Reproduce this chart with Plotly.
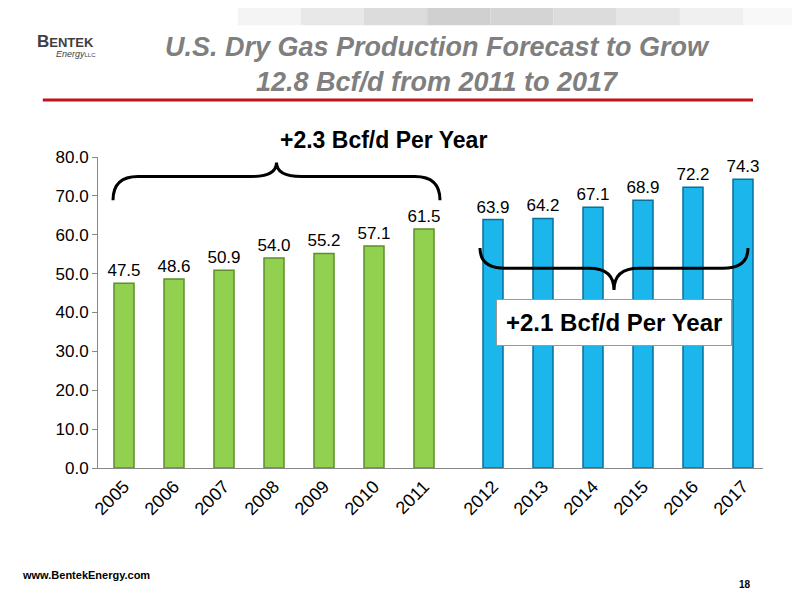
import plotly.graph_objects as go

hist_years = ["2005","2006","2007","2008","2009","2010","2011"]
hist_vals = [47.5,48.6,50.9,54.0,55.2,57.1,61.5]
fc_years = ["2012","2013","2014","2015","2016","2017"]
fc_vals = [63.9,64.2,67.1,68.9,72.2,74.3]
yticks = [0,10,20,30,40,50,60,70,80]

gap = 0.38
hx = list(range(len(hist_years)))
fx = [len(hist_years) + gap + i for i in range(len(fc_years))]

fig = go.Figure()
fig.add_bar(x=hx, y=hist_vals, width=0.4, marker=dict(color="#92D050", line=dict(color="#5E8F2A", width=1.5)),
            text=[f"{v:.1f}" for v in hist_vals], textposition="outside", constraintext="none",
            textfont=dict(size=17, color="black"), cliponaxis=False)
fig.add_bar(x=fx, y=fc_vals, width=0.4, marker=dict(color="#1BB6EC", line=dict(color="#0A6F9A", width=1.5)),
            text=[f"{v:.1f}" for v in fc_vals], textposition="outside", constraintext="none",
            textfont=dict(size=17, color="black"), cliponaxis=False)

def brace(x0, x1, yflat, yend, ycusp):
    xm = (x0 + x1) / 2
    return (f"M {x0},{yend} Q {x0},{yflat} {x0+0.5},{yflat} L {xm-0.5},{yflat} "
            f"Q {xm},{yflat} {xm},{ycusp} Q {xm},{yflat} {xm+0.5},{yflat} "
            f"L {x1-0.5},{yflat} Q {x1},{yflat} {x1},{yend}")

fig.add_shape(type="path", path=brace(-0.22, 6.32, 75.0, 68.9, 78.6), xref="x", yref="y",
              line=dict(color="black", width=3))
fig.add_shape(type="path", path=brace(7.12, 12.48, 51.4, 56.6, 45.8), xref="x", yref="y",
              line=dict(color="black", width=3))

def ann(x, y, text, **kw):
    fig.add_annotation(xref="paper", yref="paper", x=x, y=y, text=text, showarrow=False, yanchor="middle", **kw)

ann(0.271, 1.055, "<b>+2.3 Bcf/d Per Year</b>", font=dict(size=23, color="black"))
fig.add_annotation(x=9.8, y=37.4, text="<b>+2.1 Bcf/d Per Year</b>", showarrow=False,
                   font=dict(size=24, color="black"), bgcolor="white", bordercolor="#999", borderwidth=1, borderpad=9)

# header
cols = ["#f4f4f4", "#e8e8e8", "#dcdcdc", "#d0d0d0", "#d4d4d4", "#dcdcdc", "#e6e6e6", "#f0f0f0", "#f8f8f8"]
for i, c in enumerate(cols):
    fig.add_shape(type="rect", xref="paper", yref="paper", x0=0.21 + i*0.095, x1=0.305 + i*0.095, y0=1.424, y1=1.53,
                  fillcolor=c, line_width=0, layer="below")
fig.add_shape(type="line", xref="paper", yref="paper", x0=-0.083, x1=0.985, y0=1.183, y1=1.183,
              line=dict(color="#C0141C", width=3))
ann(0.511, 1.296, "<b><i>U.S. Dry Gas Production Forecast to Grow<br>12.8 Bcf/d from 2011 to 2017</i></b>",
    font=dict(size=27, color="#7F7F7F", family="Liberation Sans"), align="center")
ann(-0.095, 1.37, "<b>B<span style='font-size:13px'>ENTEK</span></b>", xanchor="left", font=dict(size=17, color="#404040"))
ann(0.0, 1.33, "<i>Energy</i><span style='font-size:6px'>LLC</span>", xanchor="right", font=dict(size=9, color="#404040"))
ann(-0.117, -0.344, "<b>www.BentekEnergy.com</b>", xanchor="left", font=dict(size=11, color="black"))
ann(0.985, -0.373, "<b>18</b>", font=dict(size=10, color="black"))

fig.update_layout(
    width=800, height=600, margin=dict(l=90, r=45, t=149, b=140),
    plot_bgcolor="white", paper_bgcolor="white", showlegend=False,
    font=dict(family="Liberation Sans", color="black"),
    xaxis=dict(range=[-0.52, 12.78], tickvals=hx + fx, ticktext=hist_years + fc_years, tickangle=-45,
               tickfont=dict(size=18), showgrid=False, showline=True, linecolor="#888", ticks=""),
    yaxis=dict(range=[0, 80], tickvals=yticks, tickformat=".1f", tickfont=dict(size=17), showgrid=False,
               showline=True, linecolor="#888", ticks="outside", tickcolor="#888", ticklen=5),
)
fig.write_html("out.html")
